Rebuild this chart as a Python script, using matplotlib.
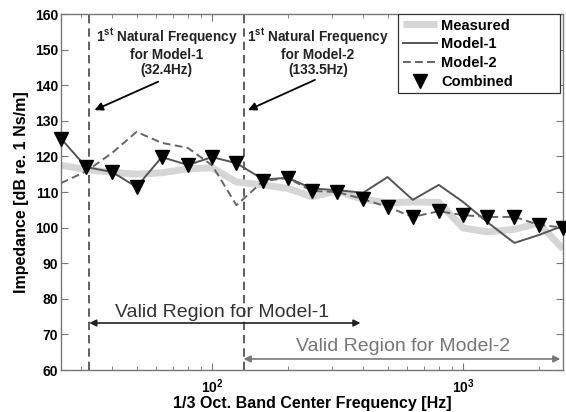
import matplotlib
matplotlib.use("Agg")
import matplotlib.pyplot as plt
from matplotlib.patches import Rectangle
from matplotlib.ticker import FixedLocator, FixedFormatter, NullFormatter

plt.rcParams['font.family'] = ['Liberation Sans', 'DejaVu Sans']
plt.rcParams['mathtext.fontset'] = 'custom'
plt.rcParams['mathtext.rm'] = 'Liberation Sans'
plt.rcParams['mathtext.bf'] = 'Liberation Sans:bold'

freqs = [25, 31.5, 40, 50, 63, 80, 100, 125, 160, 200, 250, 315, 400, 500,
         630, 800, 1000, 1250, 1600, 2000, 2500]
measured = [117.5, 116.3, 115.5, 115.0, 115.4, 116.5, 116.8, 112.8, 112.0, 111.0,
            108.7, 110.3, 107.9, 107.0, 107.2, 107.1, 99.9, 98.8, 99.5, 101.2, 94.0]
model1 = [125.0, 117.0, 115.6, 111.4, 119.8, 117.6, 119.8, 118.1, 113.5, 114.0,
          111.0, 110.5, 109.8, 114.2, 107.8, 112.0, 107.2, 101.5, 95.7, 97.9, 100.5]
model2 = [112.5, 115.8, 121.0, 126.9, 123.8, 122.4, 117.5, 106.3, 113.1, 113.9,
          110.3, 110.0, 108.0, 105.8, 103.0, 104.6, 103.5, 103.0, 103.0, 100.8, 100.0]
combined = [125.0, 117.0, 115.6, 111.4, 119.8, 117.6, 119.8, 118.1, 113.1, 113.9,
            110.3, 110.0, 108.0, 105.8, 103.0, 104.6, 103.5, 103.0, 103.0, 100.8, 100.0]

nat_freq1 = 32.4
nat_freq2 = 133.5
yticks = [60, 70, 80, 90, 100, 110, 120, 130, 140, 150, 160]

fig = plt.figure(figsize=(5.66, 4.12), dpi=100)
ax = fig.add_axes([61/566, 1-370/412, (563-61)/566, (370-14)/412])

ax.plot(freqs, measured, color='#d6d6d6', lw=5, solid_capstyle='butt', label='Measured', zorder=2)
ax.plot(freqs, model1, color='#555555', lw=1.4, label='Model-1', zorder=3)
ax.plot(freqs, model2, color='#666666', lw=1.4, ls=(0, (4, 2.2)), label='Model-2', zorder=3)
ax.plot(freqs, combined, ls='none', marker='v', ms=10, color='black', label='Combined',
        zorder=4, clip_on=False)

ax.axvline(nat_freq1, color='#444444', lw=1.2, ls=(0, (5, 3)), zorder=1)
ax.axvline(nat_freq2, color='#444444', lw=1.2, ls=(0, (5, 3)), zorder=1)

ax.set_xscale('log')
ax.set_xlim(25, 2500)
ax.set_ylim(60, 160)
ax.set_yticks(yticks)
ax.xaxis.set_major_locator(FixedLocator([100, 1000]))
ax.xaxis.set_major_formatter(FixedFormatter([r'$\mathbf{10^{2}}$', r'$\mathbf{10^{3}}$']))
minors = [30, 40, 50, 60, 70, 80, 90, 200, 300, 400, 500, 600, 700, 800, 900, 2000]
ax.xaxis.set_minor_locator(FixedLocator(minors))
ax.xaxis.set_minor_formatter(NullFormatter())

for sp in ax.spines.values():
    sp.set_color('#777777')
    sp.set_linewidth(1.0)
ax.tick_params(which='both', direction='in', top=True, right=True, color='#777777')
ax.tick_params(which='major', length=5)
ax.tick_params(which='minor', length=3)
ax.tick_params(axis='y', labelsize=10, pad=2)
ax.tick_params(axis='x', labelsize=10, pad=5)
for lab in ax.get_yticklabels():
    lab.set_fontweight('bold')

ax.set_xlabel('1/3 Oct. Band Center Frequency [Hz]', fontsize=11.5, fontweight='bold', labelpad=0)
ax.set_ylabel('Impedance [dB re. 1 Ns/m]', fontsize=11.5, fontweight='bold', labelpad=4)

ann_kw = dict(ha='center', va='top', fontsize=9.8, fontweight='bold', color='#222222',
              linespacing=1.1)
ax.text(66, 156.6, '1$^{\\mathbf{st}}$ Natural Frequency\nfor Model-1\n(32.4Hz)', **ann_kw)
ax.text(264, 156.6, '1$^{\\mathbf{st}}$ Natural Frequency\nfor Model-2\n(133.5Hz)', **ann_kw)
ax.annotate('', xy=(34.0, 133), xytext=(61, 141),
            arrowprops=dict(arrowstyle='-|>', color='black', lw=1.3, mutation_scale=12,
                            shrinkA=0, shrinkB=0))
ax.annotate('', xy=(139, 133), xytext=(257, 141.5),
            arrowprops=dict(arrowstyle='-|>', color='black', lw=1.3, mutation_scale=12,
                            shrinkA=0, shrinkB=0))

ax.annotate('', xy=(nat_freq1, 73.2), xytext=(390, 73.2),
            arrowprops=dict(arrowstyle='<|-|>', color='#222222', lw=1.2, mutation_scale=10,
                            shrinkA=0, shrinkB=0))
ax.text(110, 76.2, 'Valid Region for Model-1', ha='center', va='center', fontsize=14,
        color='#333333')
ax.annotate('', xy=(nat_freq2, 63.1), xytext=(2440, 63.1),
            arrowprops=dict(arrowstyle='<|-|>', color='#777777', lw=1.2, mutation_scale=10,
                            shrinkA=0, shrinkB=0))
ax.text(577, 66.5, 'Valid Region for Model-2', ha='center', va='center', fontsize=14,
        color='#777777')

# legend (MATLAB-like box with extra room on the right)
ax.add_patch(Rectangle(((398-61)/502, (370-93)/356), (560-398)/502, (93-14)/356,
                       transform=ax.transAxes, facecolor='white', edgecolor='#333333',
                       lw=0.9, zorder=5))
leg = ax.legend(loc='upper left', bbox_to_anchor=((403-61)/502, (370-18.5)/356),
                frameon=False, borderaxespad=0, borderpad=0,
                prop={'weight': 'bold', 'size': 10.5},
                handlelength=2.35, handletextpad=0.25, labelspacing=0.33)
leg.set_zorder(6)

fig.savefig('out.png', dpi=100)
